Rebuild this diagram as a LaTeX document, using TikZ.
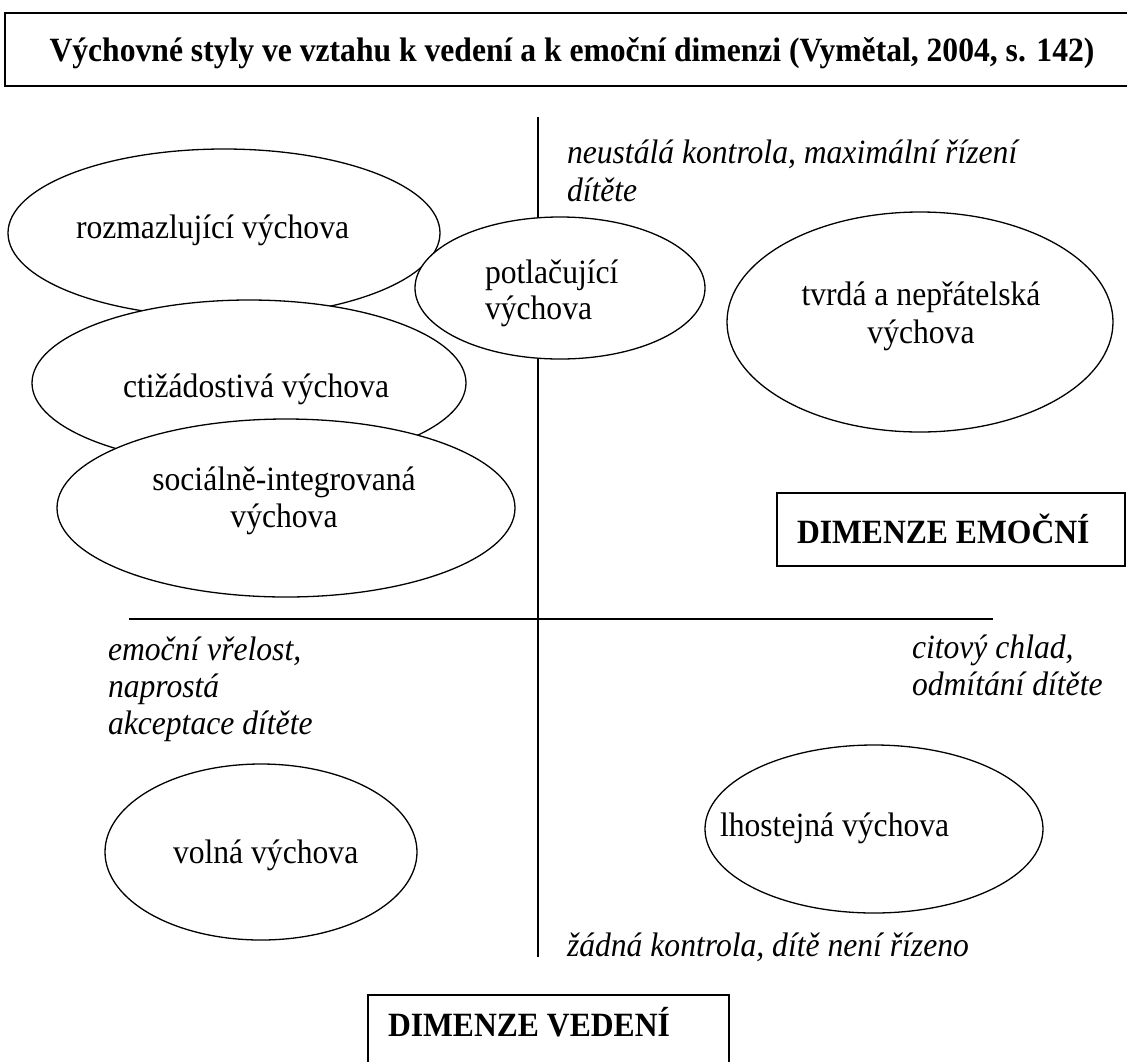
\documentclass[tikz,border=0pt]{standalone}
\usepackage{fontspec}
\setmainfont{Liberation Serif}[FakeStretch=0.93]
\usetikzlibrary{shapes.geometric}
\begin{document}
\begin{tikzpicture}[x=1pt,y=-1pt,
  every node/.style={inner sep=0pt, outer sep=0pt},
  oval/.style={ellipse, draw, fill=white, line width=1.3pt},
  frame/.style={rectangle, draw, anchor=north west},
  txt/.style={anchor=base west, font=\fontsize{34}{38}\selectfont},
  note/.style={anchor=base west, font=\fontsize{34}{38}\selectfont\itshape},
  head/.style={font=\fontsize{34}{38}\selectfont\bfseries},
]
\useasboundingbox (0,0) rectangle (1127,1061);
\path[clip] (0,0) rectangle (1127,1061);

% heading frame (open to the right) and heading
\node[frame, line width=2pt, minimum width=1140pt, minimum height=73pt] (titlebox) at (5,13) {};
\node[head, anchor=base] (title) at (572,61)
  {Výchovné styly ve vztahu k vedení a k emoční dimenzi (Vymětal, 2004, s. 142)};

% the two axes
\coordinate (vtop) at (538,117);
\coordinate (vbot) at (538,957);
\coordinate (hleft) at (129,619);
\coordinate (hright) at (993,619);
\draw[line width=1.3pt] (vtop) -- (vbot);
\draw[line width=2pt] (hleft) -- (hright);

% styles of upbringing
\node[oval, minimum width=432pt, minimum height=168pt] (roz) at (224,233) {};
\node[oval, minimum width=434pt, minimum height=166pt] (cti) at (249,383) {};
\node[oval, minimum width=458pt, minimum height=178pt] (soc) at (286,508) {};
\node[oval, minimum width=290pt, minimum height=142pt] (pot) at (560,288) {};
\node[oval, minimum width=386pt, minimum height=220pt] (tvr) at (920,322) {};
\node[oval, minimum width=312pt, minimum height=176pt] (vol) at (261,852) {};
\node[oval, minimum width=338pt, minimum height=168pt] (lho) at (874,829) {};

\node[txt] (rozA) at (76,238) {rozmazlující výchova};
\node[txt] (ctiA) at (123,397) {ctižádostivá výchova};
\node[txt, anchor=base] (socA) at (284,490) {sociálně-integrovaná};
\node[txt, anchor=base] (socB) at (284,527) {výchova};
\node[txt] (potA) at (485,283) {potlačující};
\node[txt] (potB) at (485,319) {výchova};
\node[txt, anchor=base] (tvrA) at (921,305) {tvrdá a nepřátelská};
\node[txt, anchor=base] (tvrB) at (921,343) {výchova};
\node[txt] (volA) at (173,863) {volná výchova};
\node[txt] (lhoA) at (720,836) {lhostejná výchova};

% descriptions of the poles
\node[note] (n1a) at (567,163) {neustálá kontrola, maximální řízení};
\node[note] (n1b) at (567,201) {dítěte};
\node[note] (n2a) at (108,660) {emoční vřelost,};
\node[note] (n2b) at (108,697) {naprostá};
\node[note] (n2c) at (108,734) {akceptace dítěte};
\node[note] (n3a) at (912,658) {citový chlad,};
\node[note] (n3b) at (912,695) {odmítání dítěte};
\node[note] (n4) at (567,956) {žádná kontrola, dítě není řízeno};

% dimension labels
\node[frame, line width=2pt, minimum width=348pt, minimum height=73pt] (emobox) at (777,493) {};
\node[head, anchor=base west] (emo) at (797,543) {DIMENZE EMOČNÍ};
\node[frame, line width=1.6pt, minimum width=361pt, minimum height=90pt] (vedbox) at (368,995) {};
\node[head, anchor=base west] (ved) at (388,1036) {DIMENZE VEDENÍ};
\end{tikzpicture}
\end{document}
